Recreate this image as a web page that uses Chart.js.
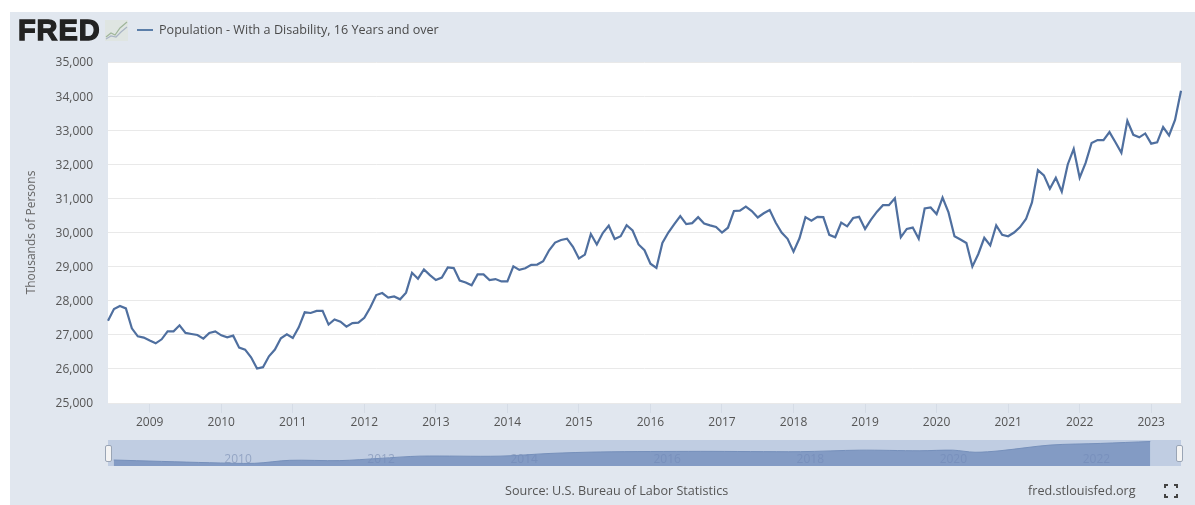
<!DOCTYPE html>
<html>
<head>
<meta charset="utf-8">
<title>Population - With a Disability, 16 Years and over</title>
<script src="https://cdn.jsdelivr.net/npm/chart.js@4"></script>
<style>
  html, body { margin: 0; padding: 0; background: #fff; overflow: hidden; }
  #panel { position: absolute; left: 10px; top: 12px; width: 1185px; height: 493px; background: #e1e7ef; }
  #main { position: absolute; left: 0; top: 0; }
  #nav { position: absolute; left: 108px; top: 440px; }
  .txt { position: absolute; font-family: "Open Sans", sans-serif; font-size: 12.6px; color: #555; white-space: nowrap; }
  #logo { left: 18px; top: 14px; font-family: "Liberation Sans", sans-serif; font-weight: bold; font-size: 29px; letter-spacing: 0.9px; color: #222; -webkit-text-stroke: 1.3px #222; }
  #spark { position: absolute; left: 105px; top: 20px; }
  #swatch { position: absolute; left: 137px; top: 29px; width: 16px; height: 2px; background: #5b7ea9; }
  #legend { left: 159px; top: 21px; color: #4a4a4a; }
  #source { left: 505px; top: 482px; }
  #site { left: 1028px; top: 482px; }
  .handle { position: absolute; top: 445px; width: 7px; height: 17px; background: #f4f4f4; border: 1px solid #9aa5b5; box-sizing: border-box; border-radius: 2px; }
  #full { position: absolute; left: 1164px; top: 484px; }
</style>
</head>
<body>
<div id="panel"></div>
<canvas id="main" width="1195" height="505"></canvas>
<canvas id="nav" width="1073" height="26"></canvas>
<div class="handle" style="left:105px"></div>
<div class="handle" style="left:1176px"></div>
<div id="logo" class="txt">FRED</div>
<svg id="spark" width="23" height="21"><rect width="23" height="21" fill="#dfe5e2"/><polyline points="1,17 6,13 10,15 15,8 22,2" fill="none" stroke="#9fb59a" stroke-width="1.2"/><polyline points="1,19 6,16 11,17 16,12 22,7" fill="none" stroke="#a9b4c4" stroke-width="1.2"/></svg>
<div id="swatch"></div>
<div id="legend" class="txt"></div>
<div id="source" class="txt">Source: U.S. Bureau of Labor Statistics</div>
<div id="site" class="txt">fred.stlouisfed.org</div>
<svg id="full" width="14" height="14" fill="none" stroke="#444" stroke-width="2"><path d="M1 4V1H4M10 1H13V4M13 10V13H10M4 13H1V10"/></svg>
<script>
var seriesName = "Population - With a Disability, 16 Years and over";
var yTitle = "Thousands of Persons";

// monthly, Jun 2008 to Jun 2023
var months = [
  "2008-06","2008-07","2008-08","2008-09","2008-10","2008-11","2008-12",
  "2009-01","2009-02","2009-03","2009-04","2009-05","2009-06","2009-07","2009-08","2009-09","2009-10","2009-11","2009-12",
  "2010-01","2010-02","2010-03","2010-04","2010-05","2010-06","2010-07","2010-08","2010-09","2010-10","2010-11","2010-12",
  "2011-01","2011-02","2011-03","2011-04","2011-05","2011-06","2011-07","2011-08","2011-09","2011-10","2011-11","2011-12",
  "2012-01","2012-02","2012-03","2012-04","2012-05","2012-06","2012-07","2012-08","2012-09","2012-10","2012-11","2012-12",
  "2013-01","2013-02","2013-03","2013-04","2013-05","2013-06","2013-07","2013-08","2013-09","2013-10","2013-11","2013-12",
  "2014-01","2014-02","2014-03","2014-04","2014-05","2014-06","2014-07","2014-08","2014-09","2014-10","2014-11","2014-12",
  "2015-01","2015-02","2015-03","2015-04","2015-05","2015-06","2015-07","2015-08","2015-09","2015-10","2015-11","2015-12",
  "2016-01","2016-02","2016-03","2016-04","2016-05","2016-06","2016-07","2016-08","2016-09","2016-10","2016-11","2016-12",
  "2017-01","2017-02","2017-03","2017-04","2017-05","2017-06","2017-07","2017-08","2017-09","2017-10","2017-11","2017-12",
  "2018-01","2018-02","2018-03","2018-04","2018-05","2018-06","2018-07","2018-08","2018-09","2018-10","2018-11","2018-12",
  "2019-01","2019-02","2019-03","2019-04","2019-05","2019-06","2019-07","2019-08","2019-09","2019-10","2019-11","2019-12",
  "2020-01","2020-02","2020-03","2020-04","2020-05","2020-06","2020-07","2020-08","2020-09","2020-10","2020-11","2020-12",
  "2021-01","2021-02","2021-03","2021-04","2021-05","2021-06","2021-07","2021-08","2021-09","2021-10","2021-11","2021-12",
  "2022-01","2022-02","2022-03","2022-04","2022-05","2022-06","2022-07","2022-08","2022-09","2022-10","2022-11","2022-12",
  "2023-01","2023-02","2023-03","2023-04","2023-05","2023-06"
];
var values = [
  27415,27756,27844,27775,27190,26956,26917,
  26830,26750,26868,27100,27100,27278,27054,27024,26995,26888,27054,27100,
  26985,26927,26975,26624,26566,26340,26010,26050,26370,26566,26900,27015,
  26907,27220,27660,27640,27700,27700,27300,27450,27385,27240,27345,27355,
  27500,27800,28165,28225,28090,28125,28040,28235,28820,28645,28917,28750,
  28605,28680,28975,28955,28590,28535,28450,28770,28770,28605,28635,28565,
  28565,29010,28905,28950,29050,29060,29155,29480,29705,29780,29820,29580,
  29240,29350,29955,29650,29985,30200,29810,29890,30215,30060,29650,29480,
  29085,28960,29695,30000,30245,30480,30245,30275,30450,30265,30210,30160,
  30000,30140,30630,30640,30760,30630,30440,30565,30660,30295,30000,29815,
  29440,29830,30450,30345,30460,30450,29930,29860,30290,30180,30425,30460,
  30105,30375,30610,30800,30800,31005,29860,30105,30145,29815,30705,30735,
  30540,31025,30590,29890,29795,29690,29000,29370,29845,29620,30210,29930,
  29890,30000,30160,30395,30880,31830,31675,31285,31605,31200,31995,32450,
  31605,32040,32625,32710,32710,32945,32645,32335,33275,32865,32790,32905,
  32605,32645,33090,32845,33300,34155
];

// navigator strip
var navYears = [2008.5,2009.84,2010.47,2010.96,2011.66,2012.22,2012.78,2013.9,2014.6,2015.3,2016.7,2018.1,2018.93,2019.77,2020.23,2020.54,2020.89,2021.59,2022.29,2022.99];
var navValues = [27700,26800,26600,27600,27500,28250,29000,29000,29900,30400,30600,30500,31000,30800,31000,30300,30800,32700,33250,33900];

var yMin = 25000, yMax = 35000, yStep = 1000;
var tickFont = { family: "'Open Sans', sans-serif", size: 12 };

document.getElementById("legend").textContent = seriesName;

// fills the plot area behind everything
var plotBg = {
  id: "plotBg",
  beforeDraw: function (chart, args, opts) {
    var a = chart.chartArea;
    chart.ctx.fillStyle = opts.color;
    chart.ctx.fillRect(a.left, a.top, a.right - a.left, a.bottom - a.top);
  }
};

new Chart(document.getElementById("main"), {
  type: "line",
  plugins: [plotBg],
  data: {
    labels: months,
    datasets: [{
      label: seriesName,
      data: values,
      borderColor: "#4f6f9f",
      borderWidth: 2.2,
      pointRadius: 0,
      tension: 0,
      fill: false
    }]
  },
  options: {
    responsive: false,
    animation: false,
    layout: { padding: { left: 0, top: 62, right: 14, bottom: 0 } },
    plugins: { legend: { display: false }, tooltip: { enabled: false }, plotBg: { color: "#ffffff" } },
    scales: {
      x: {
        type: "category",
        offset: false,
        border: { display: false },
        grid: { drawOnChartArea: false, tickColor: "#d5dce6", tickLength: 10 },
        ticks: {
          autoSkip: false, maxRotation: 0, color: "#555", font: tickFont, padding: 2,
          callback: function (v) { return this.getLabelForValue(v).slice(0, 4); }
        },
        afterBuildTicks: function (s) {
          s.ticks = s.ticks.filter(function (t) { return months[t.value].slice(5) === "01"; });
        },
        afterFit: function (s) { s.height = 102; }
      },
      y: {
        min: yMin, max: yMax,
        border: { display: false },
        grid: { color: "#e9e9e9", drawTicks: false },
        ticks: { stepSize: yStep, color: "#555", font: tickFont, padding: 15, labelOffset: 1 },
        title: { display: true, text: yTitle, color: "#666", font: tickFont, padding: { top: 24, bottom: 0 } },
        afterFit: function (s) { s.width = 108; }
      }
    }
  }
});

new Chart(document.getElementById("nav"), {
  type: "line",
  plugins: [plotBg],
  data: {
    datasets: [{
      data: navYears.map(function (y, i) { return { x: y, y: navValues[i] }; }),
      borderColor: "#7690bb",
      borderWidth: 1,
      backgroundColor: "rgba(111,138,186,0.75)",
      pointRadius: 0,
      tension: 0.3,
      fill: "start"
    }]
  },
  options: {
    responsive: false,
    animation: false,
    layout: { padding: 0 },
    plugins: { legend: { display: false }, tooltip: { enabled: false }, plotBg: { color: "#c0cde2" } },
    scales: {
      x: {
        type: "linear",
        min: 2008.42, max: 2023.42,
        border: { display: false },
        grid: { display: false, drawTicks: false },
        // mirror keeps the labels from being clipped to the zero height axis box
        ticks: {
          stepSize: 2, includeBounds: false, maxRotation: 0, autoSkip: false, mirror: true,
          color: "#94a5c4", font: tickFont, padding: -1, labelOffset: 17,
          callback: function (v) { return String(v); }
        },
        afterFit: function (s) { s.height = 0; }
      },
      y: { display: false, min: 25700, max: 34400 }
    }
  }
});
</script>
</body>
</html>
